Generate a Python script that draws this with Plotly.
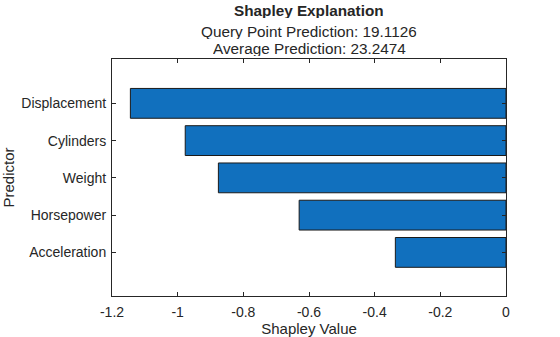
import plotly.graph_objects as go

# Shapley values per predictor (bottom to top)
predictors = ["Acceleration", "Horsepower", "Weight", "Cylinders", "Displacement"]
shapley_values = [-0.337, -0.630, -0.876, -0.977, -1.144]

x_tick_vals = [-1.2, -1.0, -0.8, -0.6, -0.4, -0.2, 0.0]
x_tick_text = ["-1.2", "-1", "-0.8", "-0.6", "-0.4", "-0.2", "0"]

title_main = "Shapley Explanation"
title_query = "Query Point Prediction: 19.1126"
title_avg = "Average Prediction: 23.2474"

FONT = "Liberation Sans, Arial, sans-serif"
INK = "#262626"

fig = go.Figure(
    go.Bar(
        x=shapley_values,
        y=predictors,
        orientation="h",
        width=0.8,
        marker=dict(color="#1170BE", line=dict(color="#1a1a1a", width=1)),
    )
)

fig.update_layout(
    width=560,
    height=337,
    margin=dict(l=112, r=54, t=59, b=41),
    paper_bgcolor="white",
    plot_bgcolor="white",
    showlegend=False,
    font=dict(family=FONT, color=INK, size=14),
    bargap=0.2,
)

fig.update_xaxes(
    range=[-1.2, 0],
    tickvals=x_tick_vals,
    ticktext=x_tick_text,
    ticks="inside",
    ticklen=4,
    tickwidth=1,
    tickcolor=INK,
    showline=True,
    linecolor=INK,
    linewidth=1,
    mirror="ticks",
    showgrid=False,
    zeroline=False,
    automargin=False,
    ticklabelstandoff=3,
    tickfont=dict(size=14, color=INK),
    title=dict(text="Shapley Value", font=dict(size=15, color=INK), standoff=4),
)

fig.update_yaxes(
    type="category",
    categoryorder="array",
    categoryarray=predictors,
    range=[-1.17, 5.19],
    ticks="inside",
    ticklen=4,
    tickwidth=1,
    tickcolor=INK,
    showline=True,
    linecolor=INK,
    linewidth=1,
    mirror="ticks",
    showgrid=False,
    zeroline=False,
    automargin=False,
    ticklabelstandoff=2,
    tickfont=dict(size=14, color=INK),
    title=dict(text="Predictor", font=dict(size=15, color=INK), standoff=8),
)

# Title block: bold heading plus two tightly stacked subtitle lines
for text, y, bold in [(title_main, 10.5, True), (title_query, 31, False), (title_avg, 47.5, False)]:
    fig.add_annotation(
        text=f"<b>{text}</b>" if bold else text,
        xref="paper", x=0.5, xanchor="center",
        yref="paper", y=1 + (59 - y) / 237, yanchor="middle",
        height=16, valign="middle",
        showarrow=False,
        font=dict(size=15.3, color=INK, family=FONT),
    )

fig.write_html("out.html")
